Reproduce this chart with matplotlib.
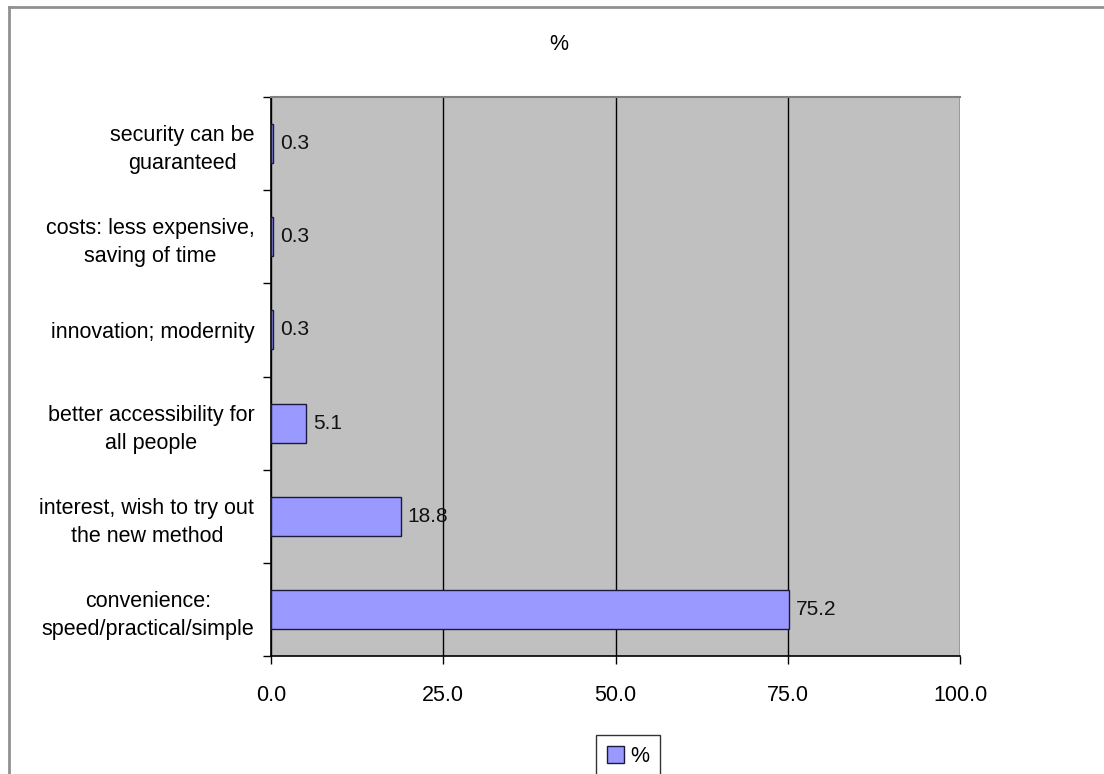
import matplotlib
matplotlib.use("Agg")
import matplotlib.pyplot as plt
from matplotlib.lines import Line2D
import numpy as np

plt.rcParams['font.family'] = ['Liberation Sans', 'DejaVu Sans']

# Data (bottom to top)
categories = [
    "convenience:\nspeed/practical/simple",
    "interest, wish to try out\nthe new method",
    "better accessibility for\nall people",
    "innovation; modernity",
    "costs: less expensive,\nsaving of time",
    "security can be\nguaranteed",
]
values = [75.2, 18.8, 5.1, 0.3, 0.3, 0.3]
series_name = "%"
xticks = [0, 25, 50, 75, 100]
xtick_labels = ["0.0", "25.0", "50.0", "75.0", "100.0"]

W, H = 1104, 774
fig = plt.figure(figsize=(W / 100, H / 100), dpi=100)
fig.patch.set_facecolor("white")

left, right, top, bottom = 271, 960, 97, 656
ax = fig.add_axes([left / W, 1 - bottom / H, (right - left) / W, (bottom - top) / H])
ax.set_facecolor("#C0C0C0")

y = np.arange(len(categories))
bars = ax.barh(y, values, height=0.42, color="#9999FF", edgecolor="#1a1a40",
               linewidth=1.0, label=series_name, zorder=3)

for yi, v in zip(y, values):
    ax.annotate(f"{v:.1f}", (v, yi), xytext=(5, 0), textcoords="offset points",
                va="center", ha="left", fontsize=15, color="#111111", zorder=4)

ax.set_xlim(0, 100)
ax.set_ylim(-0.5, len(categories) - 0.5)
ax.set_xticks(xticks)
ax.set_xticklabels(xtick_labels, fontsize=15.5)
ax.set_yticks(y)
ax.set_yticklabels(categories, fontsize=15.5, ha="right", multialignment="center",
                   linespacing=1.45)
ax.tick_params(axis="y", length=0, pad=12)
ax.set_yticks(np.arange(-0.5, len(categories), 1.0), minor=True)
ax.tick_params(axis="y", which="minor", length=6, width=1, color="black", direction="out")
ax.tick_params(axis="x", length=6, width=1, color="black", direction="out", pad=15)

ax.grid(axis="x", color="black", linewidth=1.0, zorder=1)
ax.set_axisbelow(True)

ax.spines["right"].set_visible(False)
ax.spines["top"].set_color("#808080")
ax.spines["top"].set_linewidth(1.5)
ax.spines["left"].set_color("black")
ax.spines["bottom"].set_color("black")
ax.spines["left"].set_linewidth(1.2)
ax.spines["bottom"].set_linewidth(1.2)

fig.text(559 / W, 1 - 44 / H, "%", ha="center", va="center", fontsize=15.5)

# Outer chart frame (top and left edges visible)
fig.add_artist(Line2D([9 / W, 1.0], [1 - 7 / H, 1 - 7 / H], color="#909090", linewidth=2,
                      transform=fig.transFigure))
fig.add_artist(Line2D([9 / W, 9 / W], [1 - 7 / H, 0], color="#909090", linewidth=2,
                      transform=fig.transFigure))

leg = fig.legend(handles=[bars], labels=[series_name], loc="upper left",
                 bbox_to_anchor=(596 / W, 1 - 735 / H), frameon=True, fancybox=False,
                 edgecolor="black", fontsize=15.5, handlelength=0.8, handleheight=0.8,
                 handletextpad=0.3, borderpad=0.5, borderaxespad=0)
leg.get_frame().set_linewidth(1.0)

fig.savefig("out.png", dpi=100, facecolor="white")
